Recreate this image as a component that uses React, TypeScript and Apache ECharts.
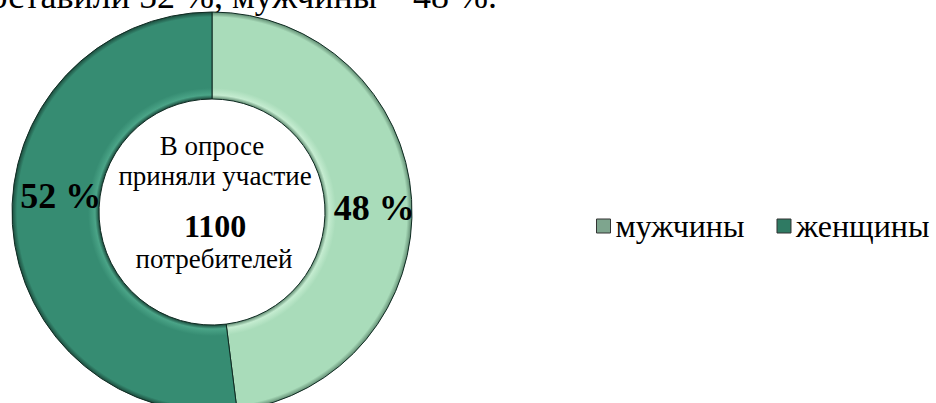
import React, { useEffect, useRef } from "react";
import * as echarts from "echarts";

const categories = ["мужчины", "женщины"];
const values = [48, 52];
const centerLines = ["В опросе", "приняли участие", "1100", "потребителей"];
const headerText = "составили 52 %, мужчины – 48 %.";

const FONT = "Liberation Serif";

function ringGradient(base: string, dark: string, light: string) {
  return new echarts.graphic.RadialGradient(212, 212, 200, [
    { offset: 0.565, color: dark },
    { offset: 0.585, color: light },
    { offset: 0.62, color: base },
    { offset: 0.93, color: base },
    { offset: 0.975, color: base },
    { offset: 1, color: dark },
  ], true);
}

function txt(text: string, x: number, y: number, size: number, bold = false, align = "center") {
  return {
    type: "text",
    x,
    y,
    style: {
      text,
      fontFamily: FONT,
      fontSize: size,
      fontWeight: bold ? "bold" : "normal",
      fill: "#000",
      textAlign: align,
      textVerticalAlign: "middle",
    },
  };
}

export default function App() {
  const ref = useRef<HTMLDivElement>(null);
  useEffect(() => {
    if (!ref.current) return;
    const chart = echarts.init(ref.current, null, { renderer: "svg" });
    const fills = [
      ringGradient("#a9dcba", "#5f8a70", "#c4ecd0"),
      ringGradient("#368c72", "#1b4a3c", "#4aa487"),
    ];
    const legendColors = ["#7ea58e", "#2f7a63"];
    const labelShift = [
      { dx: 3, dy: 6 },
      { dx: 8, dy: -26 },
    ];
    const option: any = {
      animation: false,
      backgroundColor: "#ffffff",
      legend: {
        left: 596,
        top: 210,
        width: 340,
        padding: 0,
        orient: "horizontal",
        itemWidth: 14,
        itemHeight: 14,
        itemGap: 32,
        icon: "rect",
        selectedMode: false,
        textStyle: { fontFamily: FONT, fontSize: 32, color: "#000" },
        data: categories.map((c, i) => ({
          name: c,
          itemStyle: { color: legendColors[i], borderColor: "#333", borderWidth: 1 },
        })),
      },
      graphic: [
        txt(headerText, 497, -4, 36, false, "right"),
        txt(centerLines[0], 212, 146, 27),
        txt(centerLines[1], 215, 176, 27),
        txt(centerLines[2], 215, 226, 32, true),
        txt(centerLines[3], 214, 259, 27),
      ],
      series: [
        {
          type: "pie",
          center: [212, 212],
          radius: [113, 200],
          startAngle: 90,
          clockwise: true,
          avoidLabelOverlap: false,
          silent: true,
          label: {
            show: true,
            position: "inside",
            formatter: "{c} %",
            fontFamily: FONT,
            fontSize: 36,
            fontWeight: "bold",
            color: "#000",
          },
          labelLine: { show: false },
          labelLayout: (p: any) => labelShift[p.dataIndex],
          itemStyle: { borderColor: "#0f2b22", borderWidth: 1 },
          data: categories.map((c, i) => ({
            name: c,
            value: values[i],
            itemStyle: { color: fills[i] },
          })),
        },
      ],
    };
    chart.setOption(option);
    return () => chart.dispose();
  }, []);
  return (
    <div
      ref={ref}
      style={{ position: "absolute", left: 0, top: 0, width: 936, height: 403 }}
    />
  );
}
